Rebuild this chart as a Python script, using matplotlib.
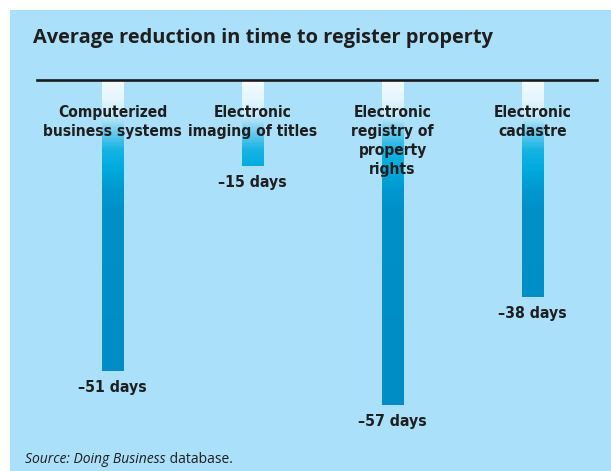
import numpy as np
import matplotlib.pyplot as plt
from matplotlib.colors import LinearSegmentedColormap
from matplotlib.patches import Rectangle

categories = ["Computerized\nbusiness systems",
              "Electronic\nimaging of titles",
              "Electronic\nregistry of\nproperty\nrights",
              "Electronic\ncadastre"]
reduction = [-51, -15, -57, -38]
value_labels = ["\u201351 days", "\u201315 days", "\u201357 days", "\u201338 days"]

title = "Average reduction in time to register property"
source_italic = "Source: Doing Business"
source_plain = " database."

BG = "#abe0fa"
INK = "#1e1e1e"

# shading down the bars: pale at the rule, deep blue further down
shade = LinearSegmentedColormap.from_list("shade", [
    (0.0, "#f4fbfe"), (3.5 / 60, "#e2f5fd"), (6 / 60, "#c4eafa"),
    (9 / 60, "#6ccbee"), (12 / 60, "#18b4e3"), (15 / 60, "#00ace0"),
    (19 / 60, "#0099cf"), (23 / 60, "#0090c8"), (1.0, "#008cc5")])

W, H = 611, 471
fig = plt.figure(figsize=(W / 100, H / 100), dpi=100)
fig.patch.set_facecolor("white")
fig.patches.append(Rectangle((10 / W, 0), 1, 1 - 10 / H, transform=fig.transFigure,
                             facecolor=BG, edgecolor="none", zorder=-5))

ax = fig.add_axes([37 / W, 1 - 422 / H, 560 / W, 342 / H])
ax.set_zorder(2)
ax.set_facecolor("none")
ax.set_xlim(-0.54, 3.46)
ax.set_ylim(-60, 0)
for s in ["left", "right", "bottom"]:
    ax.spines[s].set_visible(False)
ax.spines["top"].set_linewidth(1.9)
ax.spines["top"].set_color("#1a1a1a")
ax.spines["top"].set_zorder(5)
ax.set_xticks([])
ax.set_yticks([])

x = np.arange(len(categories))
bars = ax.bar(x, reduction, width=0.157, color="none", edgecolor="none")

grad = np.linspace(0, 1, 300).reshape(-1, 1)
for b in bars:
    im = ax.imshow(grad, cmap=shade, extent=[-0.54, 3.46, -60, 0], origin="upper",
                   aspect="auto", zorder=2, interpolation="bilinear")
    im.set_clip_path(b)

narrow = dict(family="DejaVu Sans", fontstretch="condensed", fontweight="bold")
for xi, cat, val, lab in zip(x, categories, reduction, value_labels):
    ax.text(xi, -4.3, cat, ha="center", va="top", fontsize=11.2, color=INK,
            linespacing=1.36, zorder=4, **narrow)
    ax.text(xi, val - 1.6, lab, ha="center", va="top", fontsize=11.3, color=INK,
            zorder=4, **narrow)

fig.text(33 / W, 1 - 38 / H, title, ha="left", va="center", fontsize=14.4,
         fontweight="bold", family=["Open Sans", "DejaVu Sans"], color=INK)

src = fig.text(25 / W, 1 - 463 / H, source_italic, ha="left", va="baseline",
               fontsize=10, style="italic", family=["Open Sans", "DejaVu Sans"], color=INK)
ax.annotate(source_plain, xy=(1, 0), xycoords=src, ha="left", va="bottom",
            fontsize=10, family=["Open Sans", "DejaVu Sans"], color=INK,
            annotation_clip=False)

fig.savefig("out.png", dpi=100, facecolor=fig.get_facecolor())
